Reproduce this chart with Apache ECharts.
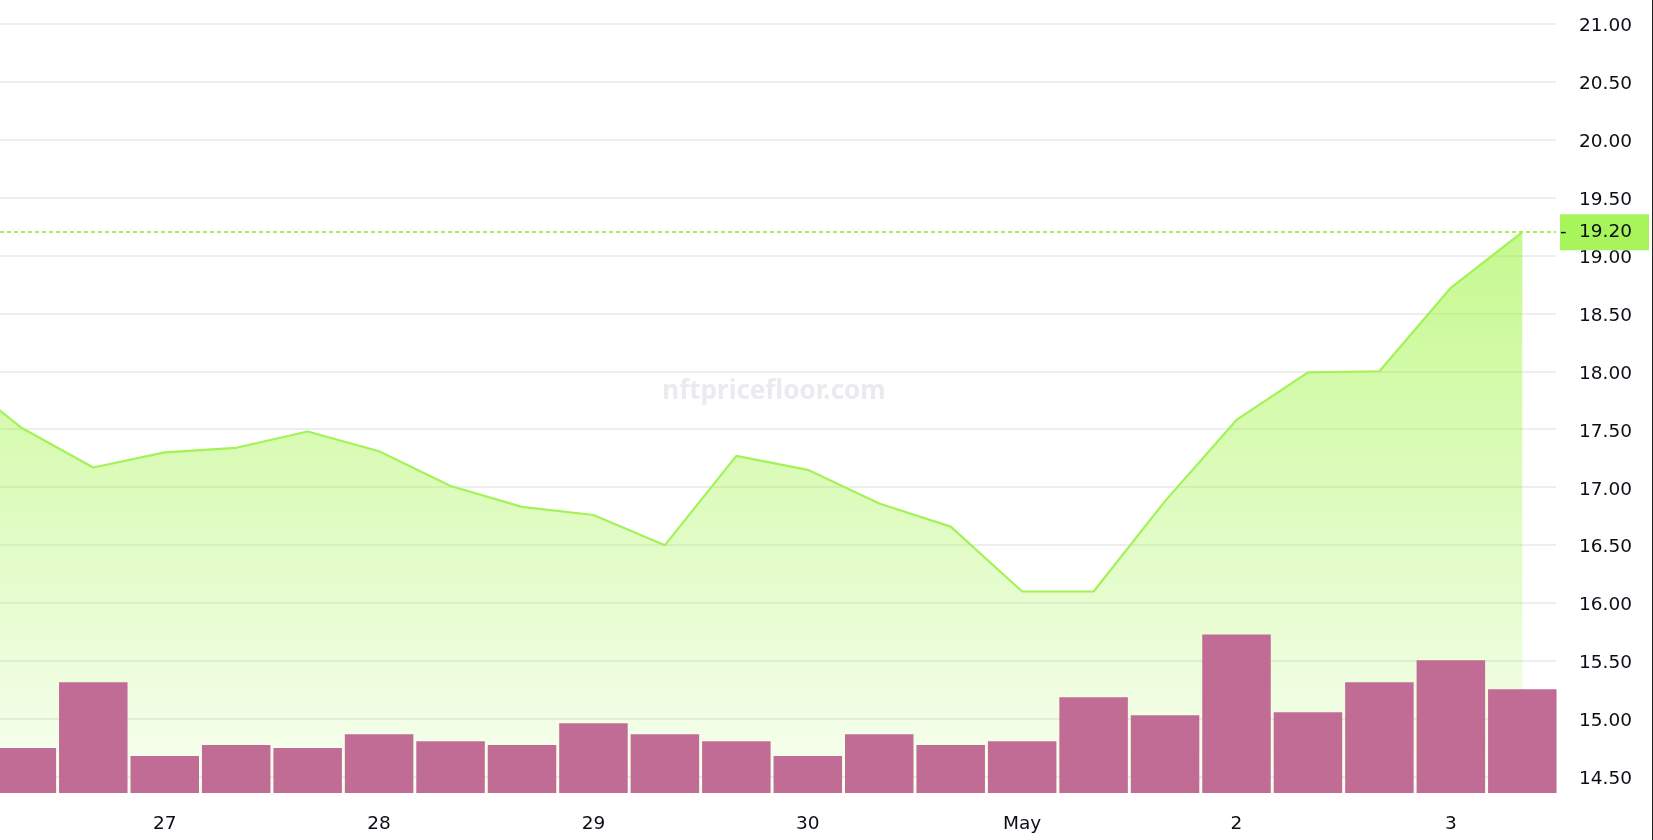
<!DOCTYPE html>
<html>
<head>
<meta charset="utf-8">
<script src="https://cdn.jsdelivr.net/npm/echarts@6/dist/echarts.min.js"></script>
<style>
  html, body { margin: 0; padding: 0; background: #ffffff; }
  #chart { width: 1653px; height: 840px; }
</style>
</head>
<body>
<div id="chart"></div>
<script>
// ---- data (8-hour slots) ----
const times = [
  '2024-04-26 00:00', '2024-04-26 08:00', '2024-04-26 16:00',
  '2024-04-27 00:00', '2024-04-27 08:00', '2024-04-27 16:00',
  '2024-04-28 00:00', '2024-04-28 08:00', '2024-04-28 16:00',
  '2024-04-29 00:00', '2024-04-29 08:00', '2024-04-29 16:00',
  '2024-04-30 00:00', '2024-04-30 08:00', '2024-04-30 16:00',
  '2024-05-01 00:00', '2024-05-01 08:00', '2024-05-01 16:00',
  '2024-05-02 00:00', '2024-05-02 08:00', '2024-05-02 16:00',
  '2024-05-03 00:00', '2024-05-03 08:00'
];
const floorPrice = [
  18.00, 17.51, 17.17,
  17.30, 17.34, 17.48,
  17.31, 17.01, 16.83,
  16.76, 16.50, 17.27,
  17.15, 16.86, 16.66,
  16.10, 16.10, 16.88,
  17.58, 17.99, 18.00,
  18.72, 19.20
];
const volume = [
  null, 45, 111,
  37, 48, 45,
  59, 52, 48,
  70, 59, 52,
  37, 59, 48,
  52, 96, 78,
  159, 81, 111,
  133, 104
];
const xTickDates = ['2024-04-27 00:00', '2024-04-28 00:00', '2024-04-29 00:00', '2024-04-30 00:00', '2024-05-01 00:00', '2024-05-02 00:00', '2024-05-03 00:00'];
const xTickLabels = ['27', '28', '29', '30', 'May', '2', '3'];
const yTicks = [14.5, 15, 15.5, 16, 16.5, 17, 17.5, 18, 18.5, 19, 19.5, 20, 20.5, 21];
const watermark = 'nftpricefloor.com';

// ---- helpers ----
function parseUTC(s) {
  const [d, t] = s.split(' ');
  const [Y, M, D] = d.split('-').map(Number);
  const [h, m] = t.split(':').map(Number);
  return Date.UTC(Y, M - 1, D, h, m);
}
const ts = times.map(parseUTC);
const tickTs = xTickDates.map(parseUTC);

// ---- layout ----
const W = 1653, H = 840;
const PLOT_RIGHT = 1556;
const PLOT_BOTTOM = 793;
const TOP_TICK_PX = 23.5, BOTTOM_TICK_PX = 777;
const ppu = (BOTTOM_TICK_PX - TOP_TICK_PX) / (yTicks[yTicks.length - 1] - yTicks[0]);
const yMin = yTicks[0] - (PLOT_BOTTOM - BOTTOM_TICK_PX) / ppu;
const yMax = yTicks[yTicks.length - 1] + TOP_TICK_PX / ppu;

const SLOT_PX = 71.45;
const FIRST_BAR_CENTER_PX = 21.85;
const slotMs = ts[2] - ts[1];
const xMin = ts[1] - FIRST_BAR_CENTER_PX / SLOT_PX * slotMs;
const xMax = xMin + PLOT_RIGHT / SLOT_PX * slotMs;

const lastPrice = floorPrice[floorPrice.length - 1];
const volMax = Math.max(...volume.filter(v => v != null)) * 5;

const FONT = 'DejaVu Sans';
const TXT = '#0b0e14';

const chart = echarts.init(document.getElementById('chart'), null, { renderer: 'canvas' });
chart.setOption({
  animation: false,
  backgroundColor: '#ffffff',
  grid: [{ left: 0, right: W - PLOT_RIGHT, top: 0, bottom: H - PLOT_BOTTOM, containLabel: false }],
  xAxis: [{
    type: 'value',
    min: xMin,
    max: xMax,
    axisLine: { show: false },
    axisTick: { show: false, customValues: tickTs },
    splitLine: { show: false },
    axisLabel: {
      customValues: tickTs,
      margin: 22,
      fontFamily: FONT,
      fontSize: 18.5,
      color: TXT,
      formatter: function (v) {
        const i = tickTs.indexOf(v);
        return i >= 0 ? xTickLabels[i] : '';
      }
    }
  }],
  yAxis: [{
    type: 'value',
    position: 'right',
    min: yMin,
    max: yMax,
    axisLine: { show: false },
    axisTick: { show: false, customValues: yTicks },
    splitLine: { show: true, customValues: yTicks, lineStyle: { color: '#e6e8eb', width: 1.5 } },
    axisLabel: {
      customValues: yTicks,
      margin: 23,
      align: 'left',
      formatter: v => '{v|' + Number(v).toFixed(2) + '}',
      rich: {
        v: { fontFamily: FONT, fontSize: 18.5, color: TXT, padding: [5, 0, 0, 0] }
      }
    }
  }, {
    type: 'value',
    min: 0,
    max: volMax,
    show: false,
    splitLine: { show: false }
  }],
  series: [{
    type: 'line',
    name: 'Floor price',
    xAxisIndex: 0,
    yAxisIndex: 0,
    data: ts.map((t, i) => [t, floorPrice[i]]),
    symbol: 'none',
    lineStyle: { color: '#a3f257', width: 2.2 },
    areaStyle: {
      origin: 'start',
      color: {
        type: 'linear', x: 0, y: 0, x2: 0, y2: 1,
        colorStops: [
          { offset: 0, color: 'rgba(150,244,50,0.78)' },
          { offset: 1, color: 'rgba(150,244,50,0.09)' }
        ]
      }
    },
    markLine: {
      silent: true,
      symbol: ['none', 'none'],
      lineStyle: { color: '#a3f257', type: [4, 3], width: 1.8 },
      label: {
        show: true,
        position: 'end',
        distance: 4,
        backgroundColor: '#a7f55b',
        padding: 0,
        formatter: function () {
          return '{a|-}{b|' + lastPrice.toFixed(2) + '}';
        },
        rich: {
          a: { width: 19, height: 36, lineHeight: 36, fontFamily: FONT, fontSize: 18.5, color: TXT, align: 'left' },
          b: { width: 70, height: 36, lineHeight: 36, fontFamily: FONT, fontSize: 18.5, color: TXT, align: 'left' }
        }
      },
      data: [{ yAxis: lastPrice }]
    },
    z: 2
  }, {
    type: 'bar',
    name: 'Volume',
    xAxisIndex: 0,
    yAxisIndex: 1,
    data: ts.map((t, i) => [t, volume[i]]),
    barWidth: 68.5,
    itemStyle: { color: '#c16c95' },
    z: 3
  }],
  graphic: [{
    type: 'text',
    style: {
      text: watermark,
      x: 774,
      y: 392,
      align: 'center',
      verticalAlign: 'middle',
      font: 'bold 26px "Noto Sans"',
      fill: '#e9ebee'
    },
    z: 1,
    silent: true
  }, {
    type: 'line',
    shape: { x1: W - 0.5, y1: 0, x2: W - 0.5, y2: H },
    style: { stroke: '#222222', lineWidth: 1 },
    silent: true
  }]
});
</script>
</body>
</html>
